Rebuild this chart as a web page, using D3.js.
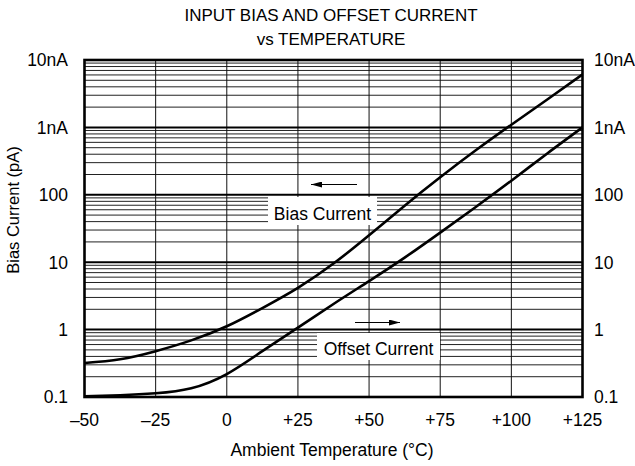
<!DOCTYPE html>
<html>
<head>
<meta charset="utf-8">
<script src="https://cdn.jsdelivr.net/npm/d3@7"></script>
<style>
  body { margin: 0; background: #fff; }
  svg text { font-family: "Liberation Sans", Arial, sans-serif; fill: #000; }
</style>
</head>
<body>
<script>
// Chart data
const temps = [-50, -37.5, -25, -12.5, 0, 12.5, 25, 37.5, 50, 62.5, 75, 87.5, 100, 112.5, 125];
const biasPA = [0.32, 0.363, 0.479, 0.692, 1.12, 2.09, 4.17, 9.55, 25.1, 69, 182, 457, 1096, 2570, 6100];
const offsetPA = [0.102, 0.106, 0.1135, 0.135, 0.219, 0.479, 1.07, 2.4, 5.25, 11.7, 27.5, 66, 162, 407, 1000];
const xTicks = [-50, -25, 0, 25, 50, 75, 100, 125];
const xTickLabels = ['–50', '–25', '0', '+25', '+50', '+75', '+100', '+125'];
const yTicks = [0.1, 1, 10, 100, 1000, 10000];
const yTickLabels = ['0.1', '1', '10', '100', '1nA', '10nA'];

const width = 635;
const height = 466;
const plot = { left: 84.5, right: 582.5, top: 60, bottom: 397 };

const svg = d3.select('body')
  .append('svg')
  .attr('width', width)
  .attr('height', height);

const x = d3.scaleLinear().domain([-50, 125]).range([plot.left, plot.right]);
const y = d3.scaleLog().domain([0.1, 10000]).range([plot.bottom, plot.top]);

// Minor horizontal grid (2..9 in each decade)
const minor = [];
yTicks.slice(0, -1).forEach(d => {
  for (let k = 2; k <= 9; k++) minor.push(d * k);
});
svg.append('g')
  .selectAll('line')
  .data(minor)
  .enter()
  .append('line')
  .attr('x1', plot.left).attr('x2', plot.right)
  .attr('y1', d => y(d)).attr('y2', d => y(d))
  .attr('stroke', '#222')
  .attr('stroke-width', 1);

// Vertical grid
svg.append('g')
  .selectAll('line')
  .data(xTicks.slice(1, -1))
  .enter()
  .append('line')
  .attr('x1', d => x(d)).attr('x2', d => x(d))
  .attr('y1', plot.top).attr('y2', plot.bottom)
  .attr('stroke', '#111')
  .attr('stroke-width', 1);

// Major decade lines
svg.append('g')
  .selectAll('line')
  .data(yTicks.slice(1, -1))
  .enter()
  .append('line')
  .attr('x1', plot.left).attr('x2', plot.right)
  .attr('y1', d => y(d)).attr('y2', d => y(d))
  .attr('stroke', '#000')
  .attr('stroke-width', 2);

// Curve labels with white boxes
const labels = [
  { text: 'Bias Current', x0: 268, x1: 377, y0: 197, y1: 225, base: 220 },
  { text: 'Offset Current', x0: 317, x1: 440, y0: 333, y1: 360, base: 355 }
];
labels.forEach(l => {
  svg.append('rect')
    .attr('x', l.x0).attr('y', l.y0)
    .attr('width', l.x1 - l.x0).attr('height', l.y1 - l.y0)
    .attr('fill', '#fff');
  svg.append('text')
    .attr('x', (l.x0 + l.x1) / 2)
    .attr('y', l.base)
    .attr('text-anchor', 'middle')
    .style('font-size', '17.5px')
    .text(l.text);
});

// Curves
const line = d3.line()
  .x((d, i) => x(temps[i]))
  .y(d => y(d))
  .curve(d3.curveNatural);

[biasPA, offsetPA].forEach(series => {
  svg.append('path')
    .attr('d', line(series))
    .attr('fill', 'none')
    .attr('stroke', '#000')
    .attr('stroke-width', 2.6);
});

// Direction arrows
svg.append('defs').append('marker')
  .attr('id', 'head')
  .attr('viewBox', '0 0 11 6')
  .attr('refX', 11).attr('refY', 3)
  .attr('markerWidth', 11).attr('markerHeight', 6)
  .attr('markerUnits', 'userSpaceOnUse')
  .attr('orient', 'auto')
  .append('path')
  .attr('d', 'M0,0 L11,3 L0,6 Z')
  .attr('fill', '#000');

svg.append('line')
  .attr('x1', 357).attr('x2', 311)
  .attr('y1', 184.5).attr('y2', 184.5)
  .attr('stroke', '#000').attr('stroke-width', 1.2)
  .attr('marker-end', 'url(#head)');
svg.append('line')
  .attr('x1', 355).attr('x2', 400)
  .attr('y1', 322.5).attr('y2', 322.5)
  .attr('stroke', '#000').attr('stroke-width', 1.2)
  .attr('marker-end', 'url(#head)');

// Plot border
svg.append('rect')
  .attr('x', plot.left).attr('y', plot.top)
  .attr('width', plot.right - plot.left)
  .attr('height', plot.bottom - plot.top)
  .attr('fill', 'none')
  .attr('stroke', '#000')
  .attr('stroke-width', 2.6);

// Y tick labels, both sides
svg.append('g')
  .selectAll('text')
  .data(yTicks)
  .enter()
  .append('text')
  .attr('x', 68)
  .attr('y', d => y(d))
  .attr('dy', '0.36em')
  .attr('text-anchor', 'end')
  .style('font-size', '17.5px')
  .text((d, i) => yTickLabels[i]);

svg.append('g')
  .selectAll('text')
  .data(yTicks)
  .enter()
  .append('text')
  .attr('x', 594)
  .attr('y', d => y(d))
  .attr('dy', '0.36em')
  .style('font-size', '17.5px')
  .text((d, i) => yTickLabels[i]);

// X tick labels
svg.append('g')
  .selectAll('text')
  .data(xTicks)
  .enter()
  .append('text')
  .attr('x', d => x(d))
  .attr('y', 426)
  .attr('text-anchor', 'middle')
  .style('font-size', '17.5px')
  .text((d, i) => xTickLabels[i]);

// Titles
svg.append('text')
  .attr('x', 331).attr('y', 20.5)
  .attr('text-anchor', 'middle')
  .style('font-size', '17px')
  .text('INPUT BIAS AND OFFSET CURRENT');
svg.append('text')
  .attr('x', 331).attr('y', 44.5)
  .attr('text-anchor', 'middle')
  .style('font-size', '17px')
  .text('vs TEMPERATURE');

svg.append('text')
  .attr('x', 332).attr('y', 456)
  .attr('text-anchor', 'middle')
  .style('font-size', '17.5px')
  .text('Ambient Temperature (°C)');

svg.append('text')
  .attr('transform', 'translate(19,210) rotate(-90)')
  .attr('text-anchor', 'middle')
  .style('font-size', '16.5px')
  .text('Bias Current (pA)');
</script>
</body>
</html>
